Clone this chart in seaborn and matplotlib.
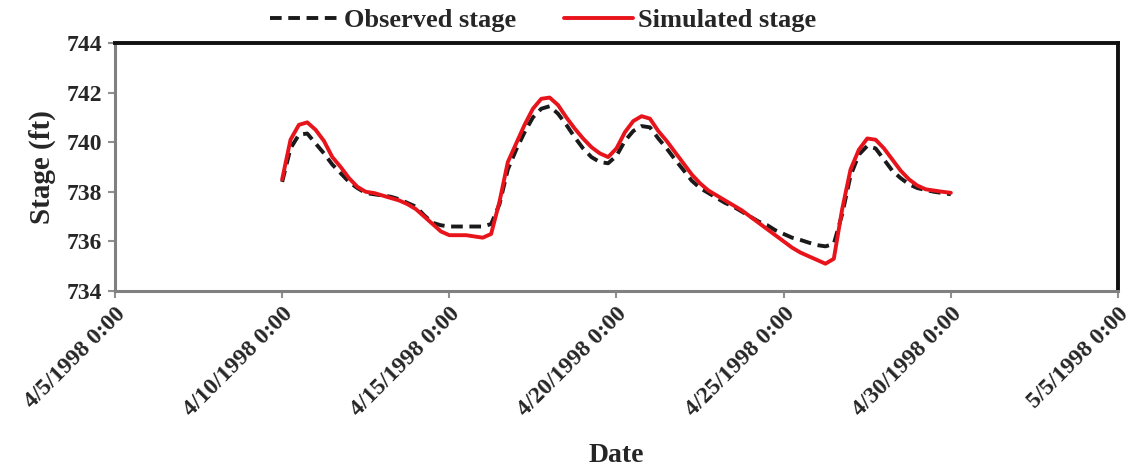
import numpy as np
import pandas as pd
import matplotlib
matplotlib.use("Agg")
import matplotlib.pyplot as plt
import matplotlib.dates as mdates
from matplotlib.ticker import FuncFormatter
import seaborn as sns

# 6-hourly readings, 4/10/1998 0:00 .. 4/30/1998 0:00
times = pd.date_range("1998-04-10 00:00", "1998-04-30 00:00", freq="6h")
observed = [738.4, 739.75, 740.3, 740.35, 739.95, 739.55, 739.1, 738.75, 738.4, 738.15,
            737.95, 737.9, 737.85, 737.8, 737.7, 737.55, 737.4, 737.05, 736.75, 736.65,
            736.6, 736.6, 736.6, 736.6, 736.6, 736.7, 737.5, 738.9, 739.7, 740.4,
            741.0, 741.35, 741.45, 741.15, 740.7, 740.2, 739.75, 739.4, 739.2, 739.15,
            739.45, 740.05, 740.45, 740.65, 740.6, 740.15, 739.75, 739.3, 738.88, 738.45,
            738.15, 737.95, 737.75, 737.55, 737.4, 737.2, 737.0, 736.8, 736.66, 736.45,
            736.3, 736.15, 736.06, 735.95, 735.85, 735.8, 735.9, 737.1, 738.65, 739.5,
            739.85, 739.75, 739.3, 738.85, 738.55, 738.3, 738.15, 738.07, 738.0, 737.95,
            737.9]
simulated = [738.5, 740.1, 740.7, 740.8, 740.5, 740.05, 739.4, 739.0, 738.55, 738.2,
             738.0, 737.95, 737.85, 737.75, 737.65, 737.5, 737.3, 737.0, 736.7, 736.4,
             736.25, 736.25, 736.25, 736.2, 736.15, 736.3, 737.6, 739.2, 739.95, 740.7,
             741.35, 741.75, 741.8, 741.5, 741.0, 740.55, 740.15, 739.8, 739.55, 739.4,
             739.75, 740.4, 740.85, 741.05, 740.95, 740.45, 740.05, 739.6, 739.15, 738.7,
             738.34, 738.05, 737.85, 737.65, 737.45, 737.25, 737.0, 736.75, 736.5, 736.25,
             736.0, 735.75, 735.55, 735.4, 735.25, 735.1, 735.3, 737.3, 738.9, 739.7,
             740.15, 740.1, 739.75, 739.3, 738.85, 738.5, 738.25, 738.1, 738.05, 738.0,
             737.96]

df = pd.DataFrame({"time": times, "Observed stage": observed, "Simulated stage": simulated})

sns.set_style("white")
plt.rcParams["font.family"] = ["Liberation Serif", "DejaVu Serif"]
plt.rcParams["font.weight"] = "bold"

fig = plt.figure(figsize=(11.34, 4.67), dpi=100)
ax = fig.add_axes([0.1014, 0.3769, 0.8845, 0.531])

sns.lineplot(data=df, x="time", y="Observed stage", ax=ax, color="#1a1a1a", lw=2.8,
             linestyle=(0, (3, 1.7)), label="Observed stage")
sns.lineplot(data=df, x="time", y="Simulated stage", ax=ax, color="#e8141c", lw=2.8,
             label="Simulated stage")

ax.set_xlim(pd.Timestamp("1998-04-05"), pd.Timestamp("1998-05-05"))
ax.set_ylim(734, 744)
ax.set_yticks(np.arange(734, 745, 2))
ax.xaxis.set_major_locator(mdates.DayLocator(bymonthday=[5, 10, 15, 20, 25, 30]))

def fmt_date(x, pos):
    d = mdates.num2date(x)
    return f"{d.month}/{d.day}/{d.year} 0:00"

ax.xaxis.set_major_formatter(FuncFormatter(fmt_date))
ax.tick_params(axis="both", direction="out", length=5, width=1.5, color="#909090",
               labelsize=17, pad=4)
ax.tick_params(axis="x", bottom=True)
ax.tick_params(axis="y", left=True)
for lab in ax.get_xticklabels():
    lab.set_rotation(45)
    lab.set_ha("right")
    lab.set_rotation_mode("anchor")
    lab.set_fontweight("bold")
for lab in ax.get_yticklabels():
    lab.set_fontweight("bold")

for side in ["left", "bottom"]:
    ax.spines[side].set_color("#808080")
    ax.spines[side].set_linewidth(2.2)
for side in ["top", "right"]:
    ax.spines[side].set_color("#111111")
    ax.spines[side].set_linewidth(2.8)

ax.set_xlabel("Date", fontsize=20, fontweight="bold", labelpad=16)
ax.set_ylabel("Stage (ft)", fontsize=21, fontweight="bold", labelpad=8)

ax.legend(loc="center", bbox_to_anchor=(0.479, 0.957), bbox_transform=fig.transFigure,
          ncol=2, frameon=False, prop={"size": 19, "weight": "bold"},
          handlelength=2.6, handletextpad=0.2, columnspacing=1.8)

fig.savefig("out.png", dpi=100)
